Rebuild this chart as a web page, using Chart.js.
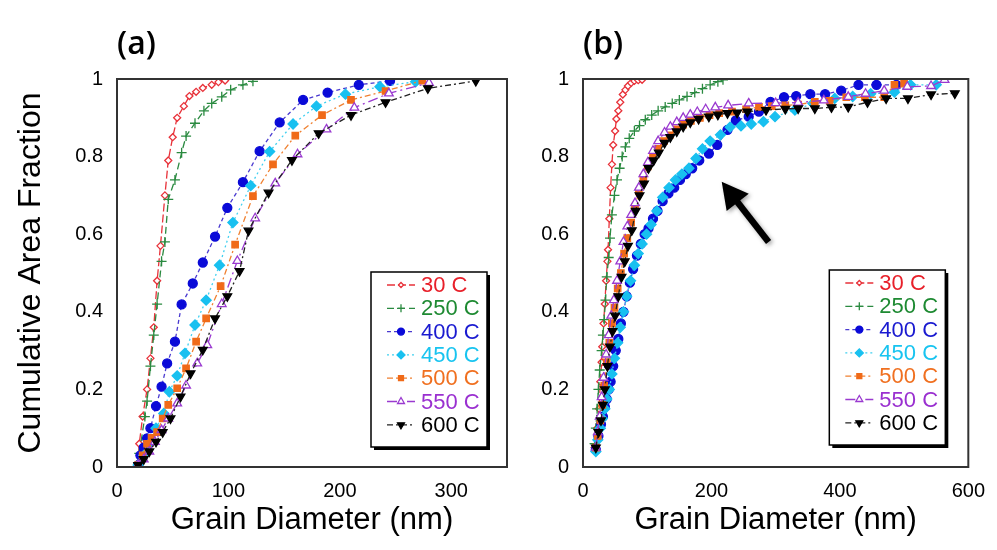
<!DOCTYPE html>
<html>
<head>
<meta charset="utf-8">
<script src="https://cdn.jsdelivr.net/npm/chart.js@4.4.1/dist/chart.umd.min.js"></script>
<style>
  body { margin: 0; background: #fff; }
  #wrap { position: relative; width: 997px; height: 550px; overflow: hidden; }
  .panel { position: absolute; top: 0; }
</style>
</head>
<body>
<div id="wrap">
  <div class="panel" style="left:0"><canvas id="chartA" width="520" height="550"></canvas></div>
  <div class="panel" style="left:520px"><canvas id="chartB" width="477" height="550"></canvas></div>
</div>
<script>
// series names (annealing temperature)
const seriesLabels = ['30 C', '250 C', '400 C', '450 C', '500 C', '550 C', '600 C'];

// axis ticks
const xTicksA = [0, 100, 200, 300];
const xTicksB = [0, 200, 400, 600];
const yTicks = [0, 0.2, 0.4, 0.6, 0.8, 1];

// panel (a): [grain diameter nm, cumulative area fraction]
const a30 = [[19,0.01],[20,0.06],[23,0.13],[27,0.2],[30,0.28],[33,0.36],[36,0.48],[39,0.57],[43,0.7],[46,0.79],[50,0.85],[54,0.9],[60,0.93],[65,0.956],[71,0.967],[77,0.977],[85,0.985],[91,0.992],[97,0.996]];
const a250 = [[19,0.01],[20,0.035],[25,0.13],[27,0.17],[30,0.26],[33,0.34],[36,0.42],[40,0.53],[43,0.58],[46,0.69],[52,0.74],[58,0.81],[62,0.853],[70,0.886],[78,0.918],[85,0.937],[94,0.954],[102,0.972],[113,0.985],[122,0.994]];
const a400 = [[19,0.005],[21,0.03],[24,0.05],[27,0.074],[30,0.1],[35,0.157],[40,0.207],[45,0.267],[52,0.323],[58,0.419],[68,0.473],[77,0.527],[88,0.594],[99,0.668],[113,0.734],[128,0.814],[146,0.888],[167,0.946],[189,0.965],[217,0.985],[245,0.995]];
const a450 = [[19,0.005],[24,0.03],[29,0.06],[35,0.1],[42,0.138],[47,0.194],[54,0.235],[61,0.293],[70,0.366],[80,0.43],[92,0.52],[104,0.63],[120,0.725],[137,0.813],[158,0.884],[179,0.93],[205,0.961],[236,0.98],[268,0.993]];
const a500 = [[19,0.005],[23,0.03],[27,0.06],[31,0.075],[36,0.09],[41,0.125],[46,0.16],[54,0.203],[62,0.254],[71,0.323],[80,0.383],[93,0.466],[106,0.573],[122,0.698],[140,0.78],[160,0.854],[184,0.907],[210,0.946],[241,0.969],[274,0.996]];
const a550 = [[19,0.005],[24,0.02],[29,0.04],[34,0.065],[40,0.095],[46,0.125],[54,0.164],[62,0.21],[72,0.267],[81,0.314],[94,0.42],[108,0.531],[124,0.641],[142,0.731],[162,0.806],[188,0.87],[213,0.926],[244,0.963],[280,0.99]];
const a600 = [[19,0.005],[24,0.02],[29,0.04],[35,0.065],[41,0.09],[48,0.125],[57,0.181],[66,0.241],[77,0.302],[88,0.383],[99,0.44],[110,0.505],[118,0.609],[136,0.707],[157,0.791],[181,0.86],[210,0.907],[241,0.94],[279,0.976],[322,0.995]];

// panel (b)
const b30 = [[18,0.05],[22,0.1],[25,0.15],[27,0.22],[29,0.27],[30,0.31],[32,0.37],[34,0.42],[36,0.48],[38,0.53],[39,0.56],[41,0.64],[43,0.72],[45,0.78],[47,0.83],[50,0.866],[52,0.897],[55,0.918],[58,0.94],[62,0.96],[66,0.972],[70,0.982],[75,0.99],[80,0.995],[86,0.997],[92,0.998]];
const b250 = [[18,0.06],[20,0.1],[22,0.15],[24,0.2],[26,0.25],[29,0.3],[31,0.34],[33,0.38],[35,0.43],[37,0.49],[40,0.54],[42,0.59],[45,0.65],[49,0.7],[53,0.74],[57,0.77],[61,0.8],[66,0.825],[72,0.847],[80,0.866],[88,0.88],[97,0.895],[107,0.907],[117,0.918],[128,0.928],[139,0.937],[150,0.946],[162,0.955],[174,0.965],[186,0.975],[198,0.985],[210,0.993],[218,0.998]];
const b400 = [[20,0.045],[24,0.08],[28,0.11],[31,0.13],[34,0.155],[37,0.175],[40,0.2],[43,0.22],[47,0.26],[51,0.3],[55,0.33],[59,0.37],[63,0.4],[68,0.44],[73,0.475],[78,0.51],[84,0.545],[90,0.575],[96,0.6],[102,0.615],[109,0.64],[116,0.66],[124,0.685],[133,0.705],[142,0.72],[151,0.74],[160,0.755],[170,0.77],[181,0.79],[196,0.808],[209,0.83],[225,0.869],[238,0.893],[258,0.903],[274,0.916],[292,0.941],[313,0.953],[332,0.956],[354,0.961],[377,0.961],[402,0.97],[429,0.985],[457,0.985],[488,0.985]];
const b450 = [[20,0.04],[23,0.07],[27,0.1],[30,0.125],[34,0.15],[37,0.175],[41,0.2],[45,0.24],[49,0.28],[54,0.32],[58,0.36],[63,0.4],[68,0.44],[74,0.48],[80,0.52],[86,0.55],[92,0.575],[99,0.6],[106,0.625],[115,0.66],[124,0.695],[134,0.72],[144,0.74],[154,0.755],[165,0.77],[176,0.795],[186,0.82],[198,0.84],[214,0.856],[229,0.876],[246,0.879],[262,0.884],[281,0.89],[299,0.903],[330,0.92],[358,0.937],[392,0.95],[420,0.955],[448,0.962],[485,0.966],[510,0.985],[550,0.985]];
const b500 = [[20,0.05],[23,0.08],[27,0.12],[30,0.16],[33,0.21],[37,0.27],[41,0.32],[45,0.37],[49,0.41],[54,0.46],[59,0.5],[64,0.55],[69,0.59],[75,0.63],[81,0.67],[87,0.71],[94,0.745],[101,0.775],[109,0.8],[117,0.82],[126,0.84],[135,0.855],[145,0.87],[156,0.882],[168,0.892],[182,0.9],[197,0.907],[212,0.912],[232,0.916],[254,0.922],[274,0.928],[294,0.93],[315,0.932],[335,0.934],[361,0.941],[384,0.944],[410,0.953],[439,0.953],[469,0.953],[485,0.985],[500,0.988]];
const b550 = [[20,0.05],[23,0.09],[26,0.13],[29,0.18],[32,0.23],[36,0.29],[40,0.34],[44,0.39],[48,0.43],[53,0.48],[58,0.53],[63,0.58],[69,0.62],[75,0.65],[81,0.68],[87,0.72],[94,0.755],[101,0.785],[109,0.815],[117,0.84],[127,0.862],[136,0.877],[146,0.889],[156,0.9],[167,0.908],[178,0.915],[191,0.922],[206,0.927],[226,0.932],[258,0.937],[300,0.938],[335,0.939],[375,0.945],[413,0.954],[440,0.962],[469,0.97],[505,0.98],[542,0.982],[563,0.998]];
const b600 = [[20,0.05],[24,0.09],[28,0.12],[31,0.16],[34,0.2],[38,0.26],[42,0.31],[46,0.35],[50,0.39],[55,0.44],[60,0.49],[65,0.53],[70,0.57],[76,0.61],[82,0.66],[88,0.7],[95,0.73],[102,0.77],[110,0.79],[118,0.81],[127,0.835],[136,0.85],[146,0.865],[156,0.877],[167,0.888],[180,0.897],[196,0.903],[210,0.908],[225,0.912],[240,0.913],[256,0.916],[285,0.92],[315,0.923],[335,0.924],[361,0.924],[387,0.927],[413,0.928],[443,0.94],[472,0.95],[506,0.95],[542,0.96],[579,0.963]];

// arrow annotation in panel (b), data coords: tail -> head
const arrowTail = [289, 0.58];
const arrowHead = [216, 0.735];

const styles = [
  { line: '#e8323a', point: '#e8323a', fill: '#ffffff', text: '#e8202a', shape: 'rectRot', r: 3.5, dash: [8, 3], rot: 0 },
  { line: '#2a8a40', point: '#2a8a40', fill: '#2a8a40', text: '#1e8a32', shape: 'cross', r: 5, dash: [7, 4], rot: 0 },
  { line: '#4a3ad0', point: '#0a0ad8', fill: '#0a0ad8', text: '#1a1ad0', shape: 'circle', r: 4.5, dash: [4, 3], rot: 0 },
  { line: '#40d0f0', point: '#18c0f0', fill: '#18c0f0', text: '#18c4f0', shape: 'rectRot', r: 5, dash: [2, 3], rot: 0 },
  { line: '#f08030', point: '#f06a18', fill: '#f06a18', text: '#f07020', shape: 'rect', r: 4.5, dash: [6, 3, 2, 3], rot: 0 },
  { line: '#9a3ad0', point: '#9a3ad0', fill: '#ffffff', text: '#9a30d0', shape: 'triangle', r: 5, dash: [10, 4, 2, 4], rot: 0 },
  { line: '#222222', point: '#000000', fill: '#000000', text: '#000000', shape: 'triangle', r: 5, dash: [6, 3, 2, 3], rot: 180 }
];

function toPts(arr) {
  return arr.map(p => ({ x: p[0], y: p[1] }));
}

function makeDatasets(seriesList) {
  return seriesList.map((arr, i) => {
    const s = styles[i];
    return {
      label: seriesLabels[i],
      data: toPts(arr),
      borderColor: s.line,
      borderWidth: 1.3,
      borderDash: s.dash,
      pointStyle: s.shape,
      pointRadius: s.r,
      pointRotation: s.rot,
      pointBorderColor: s.point,
      pointBackgroundColor: s.fill,
      pointBorderWidth: 1.3,
      tension: 0,
      fill: false,
      order: seriesList.length - 1 - i
    };
  });
}

// box round the plot area
const framePlugin = {
  id: 'frame',
  afterDatasetsDraw(chart) {
    const { ctx, chartArea: a } = chart;
    ctx.save();
    ctx.strokeStyle = '#333';
    ctx.lineWidth = 2;
    ctx.setLineDash([]);
    ctx.strokeRect(a.left, a.top, a.right - a.left, a.bottom - a.top);
    ctx.restore();
  }
};

// legend box with line samples, drawn inside the plot
const insetLegend = {
  id: 'insetLegend',
  afterDraw(chart, args, opts) {
    const { ctx, chartArea: a } = chart;
    const w = 116, h = 175;
    const right = a.right - opts.insetX, bottom = a.bottom - opts.insetY;
    const left = right - w, top = bottom - h;
    ctx.save();
    ctx.setLineDash([]);
    ctx.fillStyle = '#000';
    ctx.fillRect(left + 3, top + 3, w, h);
    ctx.fillStyle = '#fff';
    ctx.fillRect(left, top, w, h);
    ctx.strokeStyle = '#000';
    ctx.lineWidth = 1.5;
    ctx.strokeRect(left, top, w, h);
    chart.data.datasets.forEach((ds, i) => {
      const s = styles[i];
      const y = top + 13 + i * 23.3;
      ctx.strokeStyle = s.line;
      ctx.lineWidth = 1.3;
      ctx.setLineDash(s.dash);
      ctx.beginPath();
      ctx.moveTo(left + 16, y);
      ctx.lineTo(left + 44, y);
      ctx.stroke();
      ctx.setLineDash([]);
      ctx.strokeStyle = s.point;
      ctx.fillStyle = s.fill;
      Chart.helpers.drawPoint(ctx, { pointStyle: s.shape, rotation: s.rot, radius: s.r - 1, borderWidth: 1.3 }, left + 30, y);
      ctx.fillStyle = s.text;
      ctx.font = '22px "Liberation Sans", Arial, sans-serif';
      ctx.textAlign = 'left';
      ctx.textBaseline = 'middle';
      ctx.fillText(ds.label, left + 50, y + 1);
    });
    ctx.restore();
  }
};

// "(a)" / "(b)" panel tags
const panelTag = {
  id: 'panelTag',
  afterDraw(chart, args, opts) {
    const { ctx, chartArea: a } = chart;
    ctx.save();
    ctx.fillStyle = '#000';
    ctx.font = '600 32px "Open Sans", "Liberation Sans", sans-serif';
    ctx.textAlign = 'left';
    ctx.textBaseline = 'middle';
    ctx.fillText(opts.text, a.left, 45);
    ctx.restore();
  }
};

const arrowPlugin = {
  id: 'arrow',
  afterDatasetsDraw(chart, args, opts) {
    if (!opts.show) return;
    const { ctx, scales } = chart;
    const x0 = scales.x.getPixelForValue(arrowTail[0]), y0 = scales.y.getPixelForValue(arrowTail[1]);
    const x1 = scales.x.getPixelForValue(arrowHead[0]), y1 = scales.y.getPixelForValue(arrowHead[1]);
    const ang = Math.atan2(y1 - y0, x1 - x0);
    const headLen = 26, headHalf = 14;
    const bx = x1 - headLen * Math.cos(ang), by = y1 - headLen * Math.sin(ang);
    ctx.save();
    ctx.shadowColor = 'rgba(0,0,0,0.35)';
    ctx.shadowBlur = 4;
    ctx.shadowOffsetX = 2;
    ctx.shadowOffsetY = 2;
    ctx.strokeStyle = '#000';
    ctx.fillStyle = '#000';
    ctx.lineWidth = 6.5;
    ctx.setLineDash([]);
    ctx.beginPath();
    ctx.moveTo(x0, y0);
    ctx.lineTo(bx + 4 * Math.cos(ang), by + 4 * Math.sin(ang));
    ctx.stroke();
    ctx.beginPath();
    ctx.moveTo(x1, y1);
    ctx.lineTo(bx + headHalf * Math.sin(ang), by - headHalf * Math.cos(ang));
    ctx.lineTo(bx - headHalf * Math.sin(ang), by + headHalf * Math.cos(ang));
    ctx.closePath();
    ctx.fill();
    ctx.restore();
  }
};

const family = '"Liberation Sans", Arial, sans-serif';
const tickFont = { family: family, size: 20 };
const xTitleFont = { family: family, size: 31, lineHeight: 1.2 };
const yTitleFont = { family: family, size: 32, lineHeight: 1.2 };

function makeChart(id, seriesList, opts) {
  return new Chart(document.getElementById(id), {
    type: 'line',
    data: { datasets: makeDatasets(seriesList) },
    options: {
      responsive: false,
      animation: false,
      layout: { padding: { top: 79, right: opts.padRight, left: 0, bottom: 0 } },
      plugins: {
        legend: { display: false },
        tooltip: { enabled: false },
        insetLegend: { insetX: opts.insetX, insetY: opts.insetY },
        panelTag: { text: opts.tag },
        arrow: { show: opts.arrow }
      },
      scales: {
        x: {
          type: 'linear',
          min: 0,
          max: opts.xMax,
          afterBuildTicks: s => { s.ticks = opts.xTicks.map(v => ({ value: v })); },
          afterFit: s => { s.height = 83; },
          grid: { display: false, drawTicks: false },
          border: { display: false },
          ticks: { font: tickFont, color: '#000', padding: 12, maxRotation: 0, callback: v => String(v) },
          title: { display: true, text: 'Grain Diameter (nm)', font: xTitleFont, color: '#000', padding: { top: 0, bottom: 11 } }
        },
        y: {
          type: 'linear',
          min: 0,
          max: 1,
          afterBuildTicks: s => { s.ticks = yTicks.map(v => ({ value: v })); },
          afterFit: s => { s.width = opts.yWidth; },
          grid: { display: false, drawTicks: false },
          border: { display: false },
          ticks: { font: tickFont, color: '#000', padding: 14, callback: v => String(v) },
          title: { display: opts.yTitle, text: 'Cumulative Area Fraction', font: yTitleFont, color: '#000', padding: { top: 12, bottom: 0 } }
        }
      }
    },
    plugins: [framePlugin, insetLegend, panelTag, arrowPlugin]
  });
}

makeChart('chartA', [a30, a250, a400, a450, a500, a550, a600], {
  xMax: 350, xTicks: xTicksA, yWidth: 117, padRight: 13, yTitle: true,
  insetX: 20, insetY: 20, tag: '(a)', arrow: false
});
makeChart('chartB', [b30, b250, b400, b450, b500, b550, b600], {
  xMax: 600, xTicks: xTicksB, yWidth: 63, padRight: 26, yTitle: false,
  insetX: 23, insetY: 22, tag: '(b)', arrow: true
});
</script>
</body>
</html>
